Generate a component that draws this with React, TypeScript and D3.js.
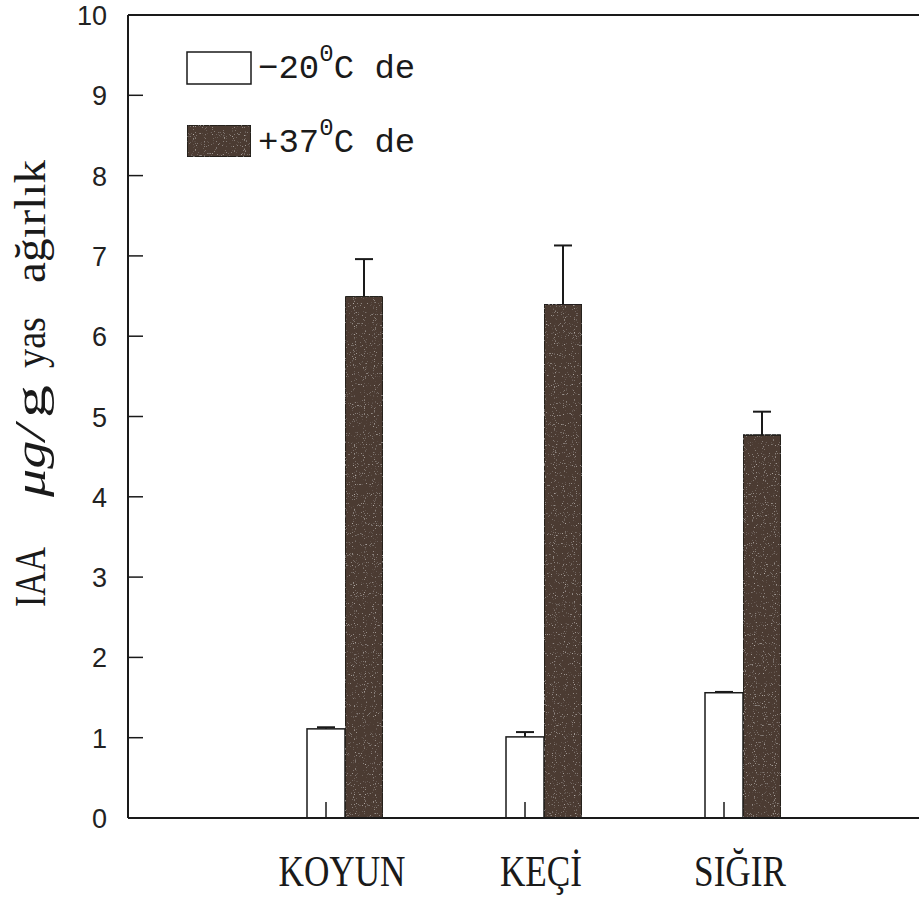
import { useEffect, useRef } from "react";
import * as d3 from "d3";

const categories = ["KOYUN", "KEÇİ", "SIĞIR"];
const seriesNames = ["−20", "+37"];
const coldValues = [1.11, 1.01, 1.56];
const coldErrors = [0.02, 0.06, 0.01];
const warmValues = [6.5, 6.4, 4.77];
const warmErrors = [0.46, 0.73, 0.29];
const yTicks = [0, 1, 2, 3, 4, 5, 6, 7, 8, 9, 10];

export default function App() {
    const ref = useRef<SVGSVGElement>(null);

    useEffect(() => {
        const svg = d3.select(ref.current);
        svg.selectAll("*").remove();

        const left = 128, top = 15, bottom = 818, right = 919;
        const barW = 38;

        const y = d3.scaleLinear().domain([0, 10]).range([bottom, top]);
        const x = d3.scaleLinear().domain([0, 2]).range([345, 743]);
        const sub = d3.scaleBand().domain(seriesNames).range([-barW, barW]);

        const series = [
            { name: seriesNames[0], values: coldValues, errors: coldErrors, fill: "#ffffff" },
            { name: seriesNames[1], values: warmValues, errors: warmErrors, fill: "#4b3a31" },
        ];

        // speckle texture for the dark bars
        const defs = svg.append("defs");
        const f = defs.append("filter").attr("id", "speck").attr("x", 0).attr("y", 0).attr("width", 1).attr("height", 1);
        f.append("feTurbulence").attr("type", "fractalNoise").attr("baseFrequency", 0.9).attr("numOctaves", 1).attr("seed", 3).attr("result", "n");
        f.append("feColorMatrix").attr("in", "n").attr("type", "matrix")
            .attr("values", "0 0 0 0 0.75  0 0 0 0 0.7  0 0 0 0 0.66  3 0 0 0 -1.9")
            .attr("result", "s");
        f.append("feComposite").attr("in", "s").attr("in2", "SourceGraphic").attr("operator", "atop");

        // bars
        series.forEach((s) => {
            const g = svg.append("g");
            g.selectAll("rect")
                .data(s.values)
                .join("rect")
                .attr("x", (_, i) => x(i) + sub(s.name)!)
                .attr("y", (d) => y(d))
                .attr("width", sub.bandwidth())
                .attr("height", (d) => y(0) - y(d))
                .attr("fill", s.fill)
                .attr("stroke", "#1a1a1a")
                .attr("stroke-width", 1.5)
                .attr("filter", s.fill === "#ffffff" ? null : "url(#speck)");

            // error bars
            s.values.forEach((v, i) => {
                const cx = x(i) + sub(s.name)! + sub.bandwidth() / 2;
                const yt = y(v + s.errors[i]);
                g.append("line").attr("x1", cx).attr("x2", cx).attr("y1", y(v)).attr("y2", yt)
                    .attr("stroke", "#1a1a1a").attr("stroke-width", 2);
                g.append("line").attr("x1", cx - 9).attr("x2", cx + 9).attr("y1", yt).attr("y2", yt)
                    .attr("stroke", "#1a1a1a").attr("stroke-width", 2);
            });
        });

        // axes frame
        const axisStroke = "#1a1a1a";
        svg.append("line").attr("x1", left).attr("x2", left).attr("y1", top).attr("y2", bottom).attr("stroke", axisStroke).attr("stroke-width", 2);
        svg.append("line").attr("x1", left).attr("x2", right).attr("y1", top).attr("y2", top).attr("stroke", axisStroke).attr("stroke-width", 2);
        svg.append("line").attr("x1", left).attr("x2", right).attr("y1", bottom).attr("y2", bottom).attr("stroke", axisStroke).attr("stroke-width", 2);

        // y ticks (inward)
        svg.selectAll(".yt")
            .data(yTicks.slice(1, -1))
            .join("line")
            .attr("x1", left).attr("x2", left + 15)
            .attr("y1", (d) => y(d)).attr("y2", (d) => y(d))
            .attr("stroke", axisStroke).attr("stroke-width", 1.5);

        svg.selectAll(".yl")
            .data(yTicks)
            .join("text")
            .attr("x", 107)
            .attr("y", (d) => y(d) + 10)
            .attr("text-anchor", "end")
            .attr("font-family", "Liberation Sans, Arial, sans-serif")
            .attr("font-size", 27)
            .attr("fill", "#222")
            .text((d) => d);

        // category ticks
        svg.selectAll(".xt")
            .data(categories)
            .join("line")
            .attr("x1", (_, i) => x(i) - barW / 2).attr("x2", (_, i) => x(i) - barW / 2)
            .attr("y1", bottom).attr("y2", bottom - 16)
            .attr("stroke", axisStroke).attr("stroke-width", 1.5);

        // category labels
        svg.selectAll(".xl")
            .data(categories)
            .join("text")
            .attr("transform", (_, i) => `translate(${x(i) - 3},886) scale(0.8,1)`)
            .attr("text-anchor", "middle")
            .attr("font-family", "Liberation Serif, Times New Roman, serif")
            .attr("font-size", 44)
            .attr("fill", "#1a1a1a")
            .text((d) => d);

        // y axis title pieces
        const yTitle = svg.append("g").attr("transform", "translate(45,0) rotate(-90)")
            .attr("font-family", "Liberation Serif, Times New Roman, serif")
            .attr("font-size", 44).attr("fill", "#1a1a1a");
        const pieces = [
            { t: "IAA", a: 547, b: 607, italic: false },
            { t: "μg/", a: 425, b: 497, italic: true },
            { t: "g", a: 385, b: 418, italic: false },
            { t: "yas", a: 317, b: 368, italic: false },
            { t: "ağırlık", a: 160, b: 283, italic: false },
        ];
        pieces.forEach((p) => {
            yTitle.append("text")
                .attr("x", -p.b).attr("y", 0)
                .attr("textLength", p.b - p.a)
                .attr("lengthAdjust", "spacingAndGlyphs")
                .attr("font-style", p.italic ? "italic" : "normal")
                .text(p.t);
        });

        // legend
        const legend = svg.append("g");
        const legY = [52, 125];
        const legBase = [78, 152];
        series.forEach((s, i) => {
            legend.append("rect")
                .attr("x", 187).attr("y", legY[i]).attr("width", 64).attr("height", 32)
                .attr("fill", s.fill).attr("stroke", "#1a1a1a").attr("stroke-width", 1.5)
                .attr("filter", s.fill === "#ffffff" ? null : "url(#speck)");
            const t = legend.append("text")
                .attr("x", 258).attr("y", legBase[i])
                .attr("font-family", "Liberation Mono, DejaVu Sans Mono, monospace")
                .attr("font-size", 34).attr("fill", "#1a1a1a");
            t.append("tspan").text(s.name);
            t.append("tspan").attr("dy", -17).attr("font-size", 24).text("0");
            t.append("tspan").attr("dy", 17).text("C de");
        });
    }, []);

    return (
        <svg
            ref={ref}
            width={919}
            height={902}
            style={{ display: "block", position: "absolute", left: 0, top: 0, background: "#fff" }}
        />
    );
}
